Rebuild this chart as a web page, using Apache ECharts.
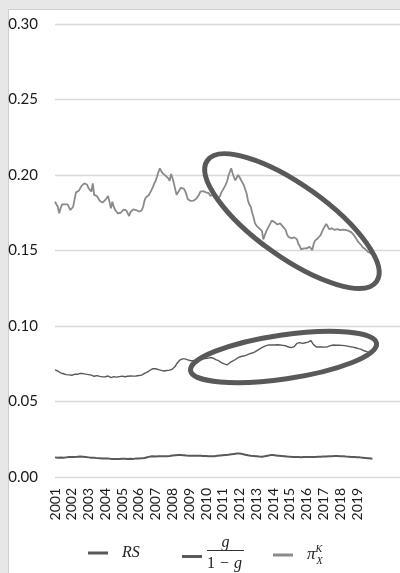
<!DOCTYPE html>
<html>
<head>
<meta charset="utf-8">
<script src="https://cdn.jsdelivr.net/npm/echarts@6/dist/echarts.min.js"></script>
<style>
  html, body { margin: 0; padding: 0; width: 400px; height: 573px; overflow: hidden; background: #e7e7e7; }
  #panel { position: absolute; left: 8px; top: 9px; width: 392px; height: 564px; background: #fff;
           border-left: 1px solid #cfcfcf; border-top: 1px solid #cfcfcf; box-sizing: border-box; }
  #chart { position: absolute; left: 0; top: 0; width: 400px; height: 573px; }
</style>
</head>
<body>
<div id="panel"></div>
<div id="chart"></div>
<script>
// Monthly observations, January 2001 to December 2019
const startYear = 2001;
const yearLabels = ['2001','2002','2003','2004','2005','2006','2007','2008','2009','2010',
                    '2011','2012','2013','2014','2015','2016','2017','2018','2019'];

// RS
const rs = [
  .0130,.0128,.0127,.0128,.0129,.0127,.0128,.0130,.0130,.0131,.0132,.0131,
  .0133,.0134,.0133,.0135,.0134,.0135,.0136,.0135,.0134,.0133,.0132,.0131,
  .0130,.0129,.0128,.0127,.0127,.0126,.0125,.0124,.0124,.0123,.0123,.0122,
  .0122,.0121,.0122,.0121,.0120,.0121,.0120,.0119,.0120,.0121,.0120,.0120,
  .0121,.0122,.0121,.0120,.0119,.0120,.0121,.0120,.0120,.0121,.0122,.0123,
  .0122,.0123,.0124,.0124,.0126,.0128,.0131,.0133,.0135,.0136,.0137,.0136,
  .0135,.0136,.0137,.0138,.0137,.0136,.0137,.0138,.0137,.0138,.0139,.0141,
  .0142,.0143,.0144,.0145,.0146,.0147,.0146,.0145,.0144,.0143,.0142,.0142,
  .0141,.0140,.0141,.0142,.0141,.0140,.0141,.0142,.0141,.0140,.0139,.0138,
  .0139,.0138,.0137,.0138,.0137,.0137,.0138,.0139,.0140,.0141,.0142,.0143,
  .0144,.0145,.0146,.0146,.0147,.0149,.0150,.0152,.0153,.0154,.0155,.0156,
  .0155,.0154,.0152,.0150,.0148,.0146,.0144,.0142,.0141,.0140,.0139,.0138,
  .0137,.0136,.0135,.0135,.0134,.0135,.0137,.0139,.0141,.0143,.0145,.0146,
  .0145,.0144,.0143,.0142,.0141,.0140,.0139,.0138,.0137,.0136,.0135,.0134,
  .0134,.0133,.0133,.0132,.0133,.0132,.0132,.0132,.0131,.0132,.0133,.0132,
  .0133,.0134,.0133,.0132,.0133,.0134,.0133,.0133,.0134,.0135,.0134,.0135,
  .0136,.0137,.0136,.0137,.0138,.0139,.0138,.0139,.0139,.0138,.0139,.0138,
  .0137,.0136,.0137,.0136,.0135,.0135,.0134,.0134,.0133,.0132,.0132,.0131,
  .0131,.0130,.0130,.0129,.0128,.0127,.0126,.0125,.0124,.0123,.0122,.0121
];

// g / (1 - g)
const gRatio = [
  .0709,.0712,.0702,.0695,.0690,.0687,.0684,.0680,.0678,.0675,.0676,.0671,
  .0674,.0678,.0680,.0682,.0680,.0683,.0686,.0684,.0685,.0684,.0681,.0680,
  .0678,.0676,.0675,.0670,.0667,.0669,.0671,.0670,.0666,.0664,.0663,.0660,
  .0664,.0667,.0669,.0663,.0658,.0662,.0665,.0667,.0661,.0658,.0665,.0670,
  .0668,.0665,.0664,.0666,.0667,.0668,.0669,.0669,.0668,.0667,.0669,.0671,
  .0672,.0674,.0675,.0680,.0686,.0690,.0695,.0699,.0707,.0714,.0718,.0720,
  .0717,.0713,.0711,.0708,.0706,.0704,.0702,.0703,.0705,.0706,.0708,.0709,
  .0715,.0724,.0733,.0750,.0763,.0772,.0779,.0782,.0783,.0782,.0779,.0776,
  .0772,.0770,.0768,.0770,.0773,.0776,.0778,.0776,.0779,.0781,.0783,.0785,
  .0782,.0786,.0789,.0791,.0793,.0788,.0783,.0778,.0775,.0770,.0763,.0757,
  .0753,.0749,.0745,.0742,.0750,.0757,.0762,.0767,.0770,.0778,.0786,.0790,
  .0796,.0798,.0800,.0801,.0804,.0807,.0810,.0815,.0819,.0821,.0823,.0829,
  .0834,.0840,.0847,.0852,.0857,.0862,.0866,.0870,.0872,.0875,.0876,.0874,
  .0872,.0874,.0876,.0876,.0875,.0874,.0873,.0872,.0871,.0869,.0867,.0861,
  .0855,.0857,.0861,.0863,.0875,.0885,.0894,.0890,.0886,.0885,.0887,.0889,
  .0891,.0893,.0897,.0903,.0896,.0875,.0863,.0861,.0859,.0861,.0863,.0861,
  .0859,.0860,.0862,.0863,.0866,.0870,.0872,.0874,.0874,.0873,.0872,.0873,
  .0874,.0872,.0871,.0870,.0868,.0867,.0865,.0863,.0862,.0860,.0859,.0856,
  .0853,.0850,.0847,.0845,.0840,.0836,.0833,.0830,.0828,.0825,.0823,.0822
];

// pi_X^K
const piXK = [
  .1823,.1818,.1790,.1746,.1780,.1805,.1808,.1806,.1810,.1805,.1812,.1768,
  .1775,.1790,.1840,.1885,.1893,.1896,.1905,.1928,.1935,.1945,.1956,.1935,
  .1912,.1900,.1890,.1945,.1868,.1870,.1860,.1845,.1830,.1825,.1817,.1828,
  .1835,.1839,.1860,.1868,.1779,.1823,.1790,.1768,.1758,.1746,.1748,.1750,
  .1762,.1770,.1773,.1766,.1764,.1728,.1755,.1768,.1772,.1773,.1768,.1764,
  .1758,.1750,.1765,.1790,.1830,.1852,.1858,.1866,.1874,.1900,.1920,.1945,
  .1962,.1990,.2020,.2044,.2025,.2011,.2005,.1996,.1993,.1978,.1962,.2007,
  .1980,.1945,.1905,.1868,.1885,.1901,.1915,.1923,.1910,.1896,.1870,.1840,
  .1832,.1828,.1823,.1830,.1838,.1842,.1850,.1870,.1890,.1896,.1893,.1890,
  .1885,.1872,.1880,.1862,.1855,.1868,.1850,.1842,.1838,.1834,.1860,.1885,
  .1900,.1912,.1935,.1956,.1995,.2020,.2044,.2011,.1985,.1965,.1956,.2000,
  .1985,.1967,.1950,.1934,.1905,.1879,.1830,.1805,.1790,.1750,.1720,.1680,
  .1665,.1655,.1647,.1640,.1630,.1574,.1600,.1625,.1645,.1658,.1680,.1698,
  .1690,.1688,.1684,.1672,.1669,.1680,.1670,.1658,.1645,.1636,.1605,.1590,
  .1583,.1581,.1586,.1587,.1580,.1574,.1545,.1530,.1508,.1512,.1514,.1518,
  .1514,.1520,.1525,.1512,.1503,.1545,.1565,.1572,.1581,.1592,.1603,.1625,
  .1645,.1660,.1675,.1660,.1642,.1648,.1647,.1640,.1636,.1636,.1642,.1640,
  .1635,.1631,.1638,.1636,.1636,.1625,.1630,.1631,.1620,.1609,.1598,.1585,
  .1570,.1555,.1547,.1535,.1521,.1515,.1508,.1500,.1490,.1486,.1480,.1477
];

// place each monthly value at its fractional year
const toPoints = values => values.map((v, i) => [startYear + i / 12, v]);

const DARK = '#595959';
const LIGHT = '#8a8a8a';
const serif = '"Liberation Serif", "DejaVu Serif", serif';

const chart = echarts.init(document.getElementById('chart'), null, { renderer: 'canvas' });

const legendBase = {
  orient: 'horizontal', icon: 'rect', itemWidth: 20, itemHeight: 3,
  itemGap: 0, padding: 0, selectedMode: false
};

chart.setOption({
  animation: false,
  backgroundColor: 'transparent',
  grid: { left: 55, right: 0, top: 24, bottom: 96 },
  xAxis: {
    type: 'value', min: startYear, max: 2021.56, interval: 1,
    axisLine: { show: false }, axisTick: { show: false }, splitLine: { show: false },
    axisLabel: {
      rotate: 90, margin: 11, fontSize: 14, fontFamily: 'Lato', color: '#1a1a1a',
      showMaxLabel: false,
      formatter: v => {
        const s = String(Math.round(v));
        return yearLabels.indexOf(s) >= 0 ? s : '';
      }
    }
  },
  yAxis: {
    type: 'value', min: 0, max: 0.3, interval: 0.05,
    axisLine: { show: false }, axisTick: { show: false },
    splitLine: { lineStyle: { color: '#d9d9d9', width: 1.3 } },
    axisLabel: { margin: 17, fontSize: 15, fontFamily: 'Lato', color: '#1a1a1a',
                 formatter: v => v.toFixed(2) }
  },
  legend: [
    Object.assign({}, legendBase, {
      data: ['RS'], left: 88, top: 545,
      formatter: () => '{t|RS}',
      textStyle: { rich: { t: { fontFamily: serif, fontStyle: 'italic', fontSize: 16,
                               color: '#222', lineHeight: 20, padding: [0, 0, 0, 9] } } }
    }),
    Object.assign({}, legendBase, {
      data: ['g/(1-g)'], left: 182, top: 535,
      formatter: () => '{num|g}\n{bar| }\n{d1|1}{op|−}{dg|g}',
      textStyle: { rich: {
        num: { fontFamily: serif, fontStyle: 'italic', fontSize: 16, color: '#222',
               lineHeight: 13, width: 37, align: 'center' },
        bar: { width: 37, height: 1.2, lineHeight: 2, backgroundColor: '#333' },
        d1: { fontFamily: serif, fontSize: 16, color: '#222', lineHeight: 25 },
        op: { fontFamily: serif, fontSize: 16, color: '#222', lineHeight: 25, padding: [0, 5, 0, 5] },
        dg: { fontFamily: serif, fontStyle: 'italic', fontSize: 16, color: '#222', lineHeight: 25 }
      } }
    }),
    Object.assign({}, legendBase, {
      data: ['piXK'], left: 273, top: 544,
      formatter: () => '{pi|π}{sup|K}{sub|X}',
      textStyle: { rich: {
        pi: { fontFamily: serif, fontStyle: 'italic', fontSize: 17, color: '#222',
              lineHeight: 22, padding: [0, 0, 0, 9] },
        sup: { fontFamily: serif, fontStyle: 'italic', fontSize: 10, color: '#222',
               verticalAlign: 'top', width: 1 },
        sub: { fontFamily: serif, fontStyle: 'italic', fontSize: 10, color: '#222',
               verticalAlign: 'bottom' }
      } }
    })
  ],
  series: [
    { name: 'RS', type: 'line', data: toPoints(rs), showSymbol: false,
      itemStyle: { color: DARK }, lineStyle: { color: DARK, width: 2 } },
    { name: 'g/(1-g)', type: 'line', data: toPoints(gRatio), showSymbol: false,
      itemStyle: { color: DARK }, lineStyle: { color: DARK, width: 1.4 } },
    { name: 'piXK', type: 'line', data: toPoints(piXK), showSymbol: false,
      itemStyle: { color: LIGHT }, lineStyle: { color: LIGHT, width: 1.8 } }
  ]
});

// Highlight rings around the post-2010 stretches of both upper series
function ring(center, rx, ry, deg) {
  const p = chart.convertToPixel({ gridIndex: 0 }, center);
  return {
    type: 'ellipse', x: p[0], y: p[1], rotation: deg * Math.PI / 180, z: 100,
    shape: { cx: 0, cy: 0, rx: rx, ry: ry },
    style: { fill: null, stroke: '#595959', lineWidth: 5 }
  };
}
chart.setOption({
  graphic: [
    ring([2015.12, 0.1695], 104, 36, -35.6),
    ring([2014.62, 0.0795], 94, 22, 8.3)
  ]
});
</script>
</body>
</html>
